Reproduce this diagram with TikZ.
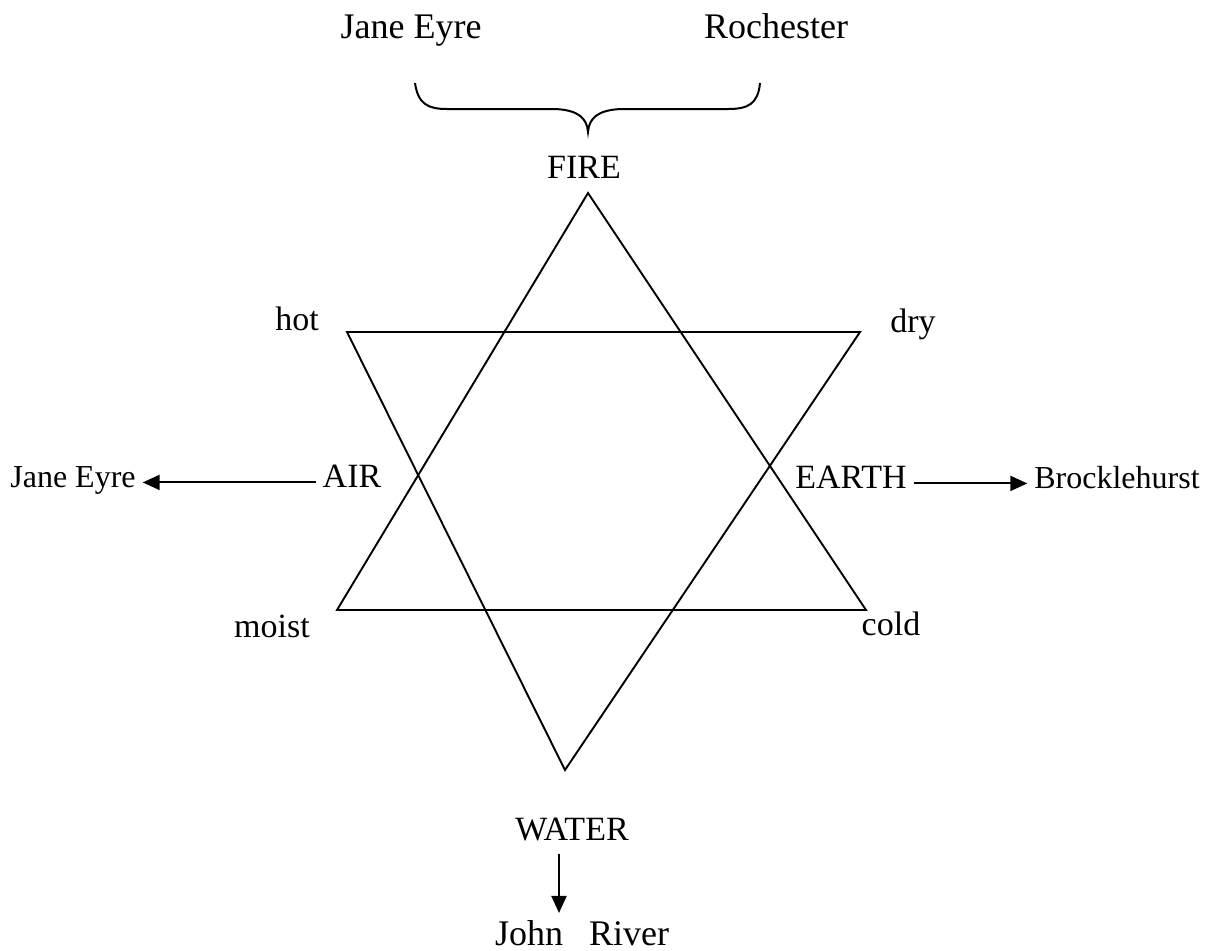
\documentclass[tikz,border=0pt]{standalone}
\usepackage{fontspec}
\setmainfont{Liberation Serif}
\usepackage{tikz}
\usetikzlibrary{arrows.meta, positioning}
\tikzset{
  arrowK/.style={-{Triangle[length=8.5pt, width=7.5pt]}, black, line width=1pt},
  starLine/.style={black, line width=0.95pt, line join=miter},
  braceLine/.style={black, line width=1pt},
  lbl/.style={anchor=base, font=\fontsize{17}{20}\selectfont},
  nameS/.style={anchor=base, font=\fontsize{16}{19}\selectfont},
  nameT/.style={anchor=base, font=\fontsize{18}{21}\selectfont},
}

\begin{document}
\begin{tikzpicture}[x=0.5pt, y=-0.5pt]
    \useasboundingbox (0,0) rectangle (1219,950);
    % names over the brace
    \node[nameT] (janeTop) at (411,38) {Jane Eyre};
    \node[nameT] (rochester) at (776,38) {Rochester};
    \draw[braceLine] (415,83) .. controls (418,104) and (428,109) .. (447,109)
      -- (555,109) .. controls (578,110) and (587,118) .. (588,132)
      .. controls (589,118) and (598,110) .. (621,109)
      -- (728,109) .. controls (748,109) and (758,104) .. (760,83);
    % the star
    \coordinate (upTop) at (588,193);
    \coordinate (upLeft) at (337,610);
    \coordinate (upRight) at (866,610);
    \coordinate (dnLeft) at (347,332);
    \coordinate (dnRight) at (860,332);
    \coordinate (dnBot) at (565,770);
    \draw[starLine] (upTop) -- (upLeft) -- (upRight) -- cycle;
    \draw[starLine] (dnLeft) -- (dnRight) -- (dnBot) -- cycle;
    % labels
    \node[lbl] (fire) at (584,178) {FIRE};
    \node[lbl] (hot) at (297,330) {hot};
    \node[lbl] (dry) at (913,332) {dry};
    \node[lbl] (air) at (352,487) {AIR};
    \node[lbl] (earth) at (851,488) {EARTH};
    \node[lbl] (moist) at (272,637) {moist};
    \node[lbl] (cold) at (891,635) {cold};
    \node[lbl] (water) at (572,840) {WATER};
    \node[nameS] (janeLeft) at (73,487) {Jane Eyre};
    \node[nameS] (brock) at (1117,488) {Brocklehurst};
    \node[nameT] (john) at (582,945) {John\hspace{13pt}River};
    \draw[arrowK] (air.mid west) -- (janeLeft.mid east);
    \draw[arrowK] (earth.mid east) -- (brock.mid west);
    \draw[arrowK, shorten <=3pt] ([xshift=-6.5pt]water.south) -- ([xshift=-6.5pt]water.south |- john.north);
\end{tikzpicture}
\end{document}
